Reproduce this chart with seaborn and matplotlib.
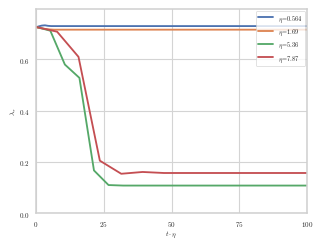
import numpy as np
import pandas as pd
import matplotlib
matplotlib.use("Agg")
import matplotlib.pyplot as plt
import seaborn as sns

sns.set_theme(style="whitegrid")
plt.rcParams['font.family'] = 'serif'
plt.rcParams['font.serif'] = ['cmr10', 'DejaVu Serif']
plt.rcParams['mathtext.fontset'] = 'cm'
plt.rcParams['axes.formatter.use_mathtext'] = True

# values
labels = [r"$\eta$=0.564", r"$\eta$=1.69", r"$\eta$=5.36", r"$\eta$=7.87"]

x_a = [0, 1.13, 2.26, 3.38, 4.51, 5.64, 100]
y_a = [0.725, 0.729, 0.732, 0.733, 0.731, 0.730, 0.730]

x_b = [0, 1.69, 3.38, 5.07, 6.76, 100]
y_b = [0.725, 0.722, 0.719, 0.717, 0.716, 0.716]

x_c = [0, 5.36, 10.72, 16.08, 21.44, 26.8, 32.16, 37.52, 42.88, 101.84]
y_c = [0.727, 0.712, 0.580, 0.528, 0.167, 0.110, 0.108, 0.108, 0.108, 0.108]

x_d = [0, 7.87, 15.74, 23.61, 31.48, 39.35, 47.22, 55.09, 102.31]
y_d = [0.727, 0.708, 0.610, 0.205, 0.154, 0.161, 0.157, 0.157, 0.157]

frames = []
for lab, xs, ys in zip(labels, [x_a, x_b, x_c, x_d], [y_a, y_b, y_c, y_d]):
    frames.append(pd.DataFrame({"x": xs, "y": ys, "run": lab}))
df = pd.concat(frames, ignore_index=True)

fig = plt.figure(figsize=(6.4, 4.8))
ax = fig.add_axes([0.110, 0.122, 0.835, 0.837])
sns.lineplot(data=df, x="x", y="y", hue="run", palette="deep", linewidth=2.6,
             sort=False, estimator=None, ax=ax)

ax.set_xlim(0, 100)
ax.set_ylim(0, 0.796)
ax.set_xticks([0, 25, 50, 75, 100])
ax.set_yticks([0.0, 0.2, 0.4, 0.6])
ax.set_xlabel(r"$t\cdot\eta$", fontsize=10, labelpad=0)
ax.set_ylabel(r"$\lambda_\tau$", fontsize=10, labelpad=0)
ax.tick_params(labelsize=10, pad=3)
ax.grid(color="#d4d4d4", linewidth=1.6)
for s in ax.spines.values():
    s.set_color("#d0d0d0")
    s.set_linewidth(2.2)

leg = ax.legend(loc="upper right", fontsize=9, frameon=True, borderaxespad=0.3,
                handlelength=2.4)
leg.get_frame().set_edgecolor("#cccccc")

fig.savefig("out.png", dpi=50.8)
